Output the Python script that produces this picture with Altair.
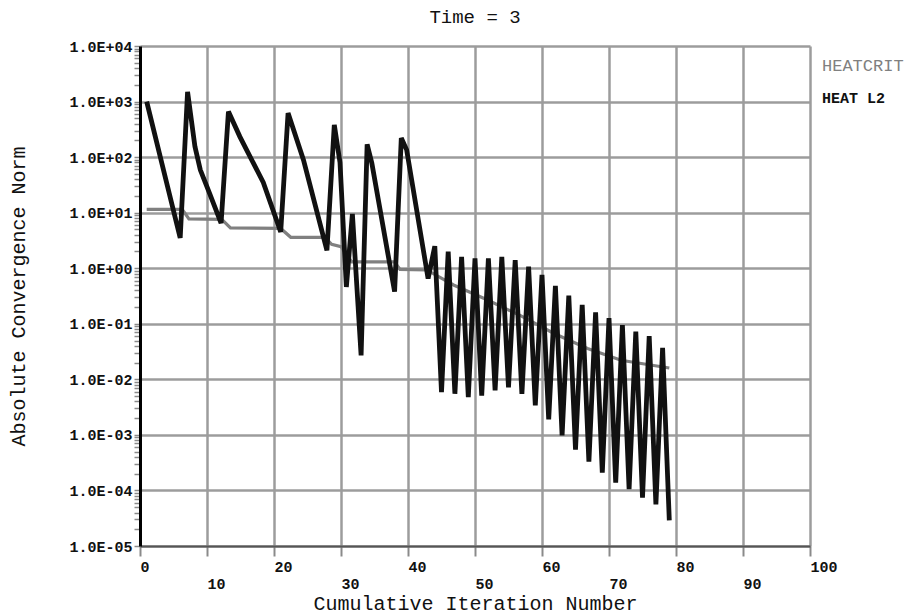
import altair as alt
import pandas as pd

MONO = "Liberation Mono"

# HEAT L2 residual (black)
heat_x = [1, 6.0, 7.1, 8.2, 9.0, 10.4, 12.1, 13.2, 14.9, 18.4, 21.0, 22.1, 24.4, 27.9,
          29.0, 29.85, 30.8, 31.7, 33.0, 33.9, 34.6, 38.0, 39.0, 39.8, 43.0,
          44, 45, 46, 47, 48, 49, 50, 51, 52, 53, 54, 55, 56, 57, 58, 59, 60, 61,
          62, 63, 64, 65, 66, 67, 68, 69, 70, 71, 72, 73, 74, 75, 76, 77, 78, 79]
heat_y = [1000, 3.5, 1500, 155, 59, 22, 6.5, 660, 234, 35, 4.5, 620, 89, 2.1,
          380, 80, 0.46, 9.5, 0.027, 170, 78, 0.38, 220, 135, 0.65,
          2.5, 0.0059, 2.0, 0.0055, 1.6, 0.0048, 1.5, 0.0051, 1.5, 0.0063, 1.6, 0.0072,
          1.4, 0.0055, 1.07, 0.0034, 0.76, 0.0019, 0.48, 0.00098, 0.32, 0.00054,
          0.22, 0.00033, 0.16, 0.00021, 0.126, 0.000138, 0.095, 0.000105, 0.072,
          0.000074, 0.060, 0.000056, 0.037, 0.000029]

# HEATCRIT criterion (gray)
crit_x = [1, 6.3, 7.3, 12.2, 13.5, 21.0, 22.5, 27.6, 28.6, 30.0, 31.6, 38.0, 38.8,
          42.8, 46.8, 51.8, 56.8, 61.8, 66.8, 71.8, 79]
crit_y = [11.5, 11.5, 7.7, 7.6, 5.3, 5.2, 3.6, 3.6, 2.7, 2.45, 1.3, 1.3, 0.95,
          0.93, 0.5, 0.27, 0.14, 0.067, 0.036, 0.022, 0.016]

series_names = ["HEATCRIT", "HEAT L2"]
series_colors = ["#808080", "#111111"]

x_ticks = list(range(0, 101, 10))
y_ticks = [m * 10.0 ** e for e in range(-5, 4) for m in range(1, 10)] + [1e4]

heat_df = pd.DataFrame({"iteration": heat_x, "norm": heat_y, "series": "HEAT L2"})
crit_df = pd.DataFrame({"iteration": crit_x, "norm": crit_y, "series": "HEATCRIT"})

dec = "abs(log(datum.value)/LN10 - round(log(datum.value)/LN10)) < 0.001"
ex = "round(log(datum.value)/LN10)"
label_expr = (f"{dec} ? '1.0E' + ({ex} < 0 ? '-' : '+') + "
              f"(abs({ex}) < 10 ? '0' : '') + abs({ex}) : ''")

x_axis = alt.Axis(
    values=x_ticks,
    title="Cumulative Iteration Number",
    titleFont=MONO, titleFontSize=20, titleFontWeight="normal", titleColor="#111111",
    titlePadding=2,
    labelFont=MONO, labelFontSize=15, labelFontWeight="bold", labelColor="#111111",
    labelAlign="left", labelFlush=False, labelOverlap=False,
    labelPadding={"condition": {"test": "datum.value % 20 != 0", "value": 20}, "value": 3},
    tickSize=10, tickColor="#8a8a8a", tickWidth=2,
    domainColor="#555555", domainWidth=2,
    grid=True, gridColor="#9c9c9c", gridWidth=2.5,
    gridOpacity={"condition": {"test": "datum.value == 0", "value": 0}, "value": 1},
)

y_axis = alt.Axis(
    values=y_ticks,
    labelExpr=label_expr,
    title="Absolute Convergence Norm",
    titleFont=MONO, titleFontSize=20, titleFontWeight="normal", titleColor="#111111",
    titlePadding=40,
    labelFont=MONO, labelFontSize=15, labelFontWeight="bold", labelColor="#111111",
    labelFlush=False, labelOverlap=False, labelPadding=2,
    tickSize=6, tickColor="#8a8a8a", tickWidth=1.5,
    domainColor="#000000", domainWidth=3,
    grid=True, gridColor="#9c9c9c", gridWidth=2.5,
    gridOpacity={"condition": {"test": dec, "value": 1}, "value": 0},
)

x_enc = alt.X("iteration:Q", scale=alt.Scale(domain=[0, 100], nice=False), axis=x_axis)
y_enc = alt.Y("norm:Q", scale=alt.Scale(type="log", domain=[1e-5, 1e4], nice=False),
              axis=y_axis)

crit_line = alt.Chart(crit_df).mark_line(
    color=series_colors[0], strokeWidth=3.2
).encode(x=x_enc, y=y_enc)

heat_line = alt.Chart(heat_df).mark_line(
    color=series_colors[1], strokeWidth=4.8, strokeJoin="miter", strokeMiterLimit=2
).encode(x=x_enc, y=y_enc)

leg_crit = alt.Chart(pd.DataFrame({"label": [series_names[0]]})).mark_text(
    font=MONO, fontSize=17, fontWeight="normal", color=series_colors[0],
    align="left", baseline="middle"
).encode(text="label:N", x=alt.value(682), y=alt.value(20))

leg_heat = alt.Chart(pd.DataFrame({"label": [series_names[1]]})).mark_text(
    font=MONO, fontSize=15, fontWeight="bold", color=series_colors[1],
    align="left", baseline="middle"
).encode(text="label:N", x=alt.value(682), y=alt.value(52))

chart = alt.layer(crit_line, heat_line, leg_crit, leg_heat).properties(
    width=670,
    height=500,
    title=alt.TitleParams("Time = 3", font=MONO, fontSize=19, fontWeight="normal",
                          color="#111111", anchor="middle", frame="group", offset=12),
    autosize=alt.AutoSizeParams(type="none"),
    padding={"left": 132, "top": 38, "right": 96, "bottom": 68},
    background="white",
).configure_view(strokeWidth=0)

chart.save("out.html", embed_options={"renderer": "svg", "actions": False})
